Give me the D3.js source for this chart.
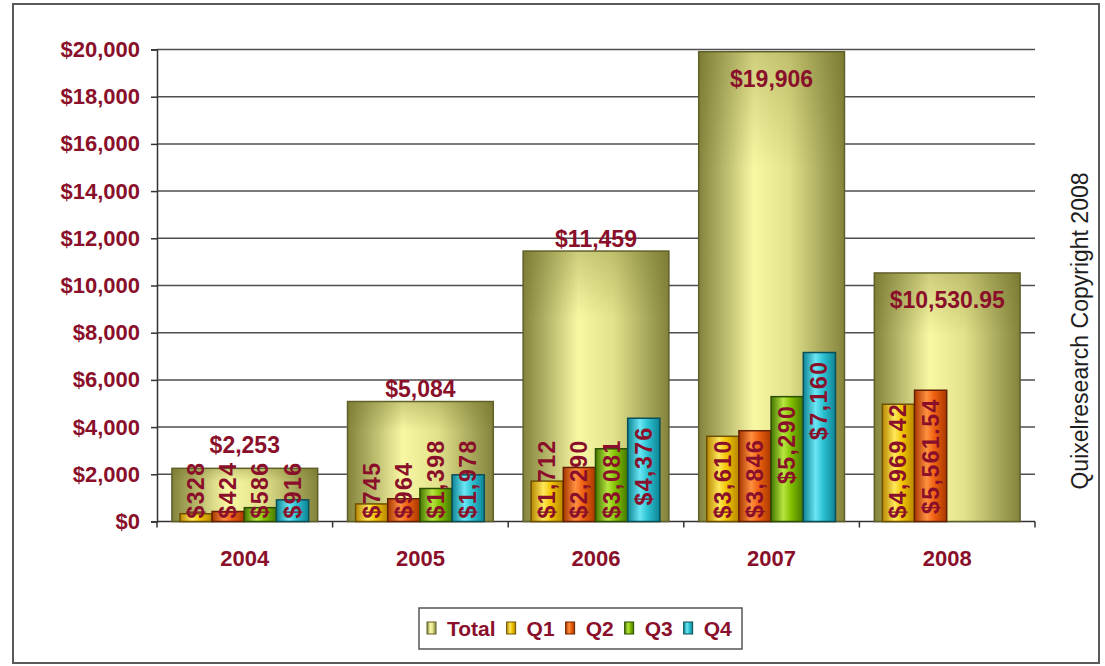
<!DOCTYPE html>
<html>
<head>
<meta charset="utf-8">
<script src="https://cdn.jsdelivr.net/npm/d3@7"></script>
<style>
  html, body { margin: 0; padding: 0; background: #ffffff; }
  svg { display: block; font-family: "Liberation Sans", Arial, sans-serif; }
</style>
</head>
<body>
<svg id="chart" width="1105" height="666"></svg>
<script>
// Yearly revenue: total bar per year with quarterly bars in front
const years = ["2004", "2005", "2006", "2007", "2008"];
const totals = [2253, 5084, 11459, 19906, 10530.95];
const q1 = [328, 745, 1712, 3610, 4969.42];
const q2 = [424, 964, 2290, 3846, 5561.54];
const q3 = [586, 1398, 3081, 5290, null];
const q4 = [916, 1978, 4376, 7160, null];
const quarterNames = ["Q1", "Q2", "Q3", "Q4"];
const yTicks = [0, 2000, 4000, 6000, 8000, 10000, 12000, 14000, 16000, 18000, 20000];
const legendNames = ["Total", "Q1", "Q2", "Q3", "Q4"];
const copyright = "Quixelresearch Copyright 2008";

const quarterSeries = [q1, q2, q3, q4];
const textRed = "#8a0f2a";

const svg = d3.select("#chart");
const defs = svg.append("defs");

// cylinder-like shading for each series
const palette = {
  Total: { dark: "#83833c", light: "#f8f8a4", mid: "#e2e28c", stroke: "#5e5e2a" },
  Q1: { dark: "#b78600", light: "#ffe85a", mid: "#f2c400", stroke: "#6e5000" },
  Q2: { dark: "#a83800", light: "#ff9040", mid: "#ee6010", stroke: "#662000" },
  Q3: { dark: "#457800", light: "#b8e640", mid: "#82c000", stroke: "#2d4d00" },
  Q4: { dark: "#0e8494", light: "#6ae6f4", mid: "#2cc2d2", stroke: "#0a4e58" }
};
Object.entries(palette).forEach(([k, c]) => {
  const g = defs.append("linearGradient").attr("id", "grad-" + k)
    .attr("x1", "0%").attr("x2", "100%").attr("y1", "0%").attr("y2", "0%");
  [[0, c.dark], [0.38, c.light], [0.62, c.mid], [1, c.dark]].forEach(([o, col]) =>
    g.append("stop").attr("offset", o).attr("stop-color", col));
});
// soft darkening toward the top of the total bars
const shade = defs.append("linearGradient").attr("id", "topShade")
  .attr("x1", "0%").attr("x2", "0%").attr("y1", "0%").attr("y2", "100%");
shade.append("stop").attr("offset", 0).attr("stop-color", "#6a6a20").attr("stop-opacity", 0.3);
shade.append("stop").attr("offset", 0.25).attr("stop-color", "#6a6a20").attr("stop-opacity", 0);
shade.append("stop").attr("offset", 1).attr("stop-color", "#6a6a20").attr("stop-opacity", 0);

// outer frame
svg.append("rect").attr("x", 13).attr("y", 4).attr("width", 1086).attr("height", 659)
  .attr("fill", "#fff").attr("stroke", "#5a5a5a").attr("stroke-width", 2);

const plot = { left: 157, right: 1035, top: 49.5, bottom: 521.5 };

const x = d3.scaleBand().domain(years).range([plot.left, plot.right])
  .paddingInner(0.17).paddingOuter(0.085);
const y = d3.scaleLinear().domain([0, 20000]).range([plot.bottom, plot.top]);
const xq = d3.scaleBand().domain(quarterNames).range([8, x.bandwidth() - 9]).padding(0);

const fmt = v => "$" + (Number.isInteger(v) ? d3.format(",")(v) : d3.format(",.2f")(v));

// gridlines
svg.append("g").selectAll("line").data(yTicks.filter(d => d > 0)).join("line")
  .attr("x1", plot.left).attr("x2", plot.right)
  .attr("y1", d => y(d)).attr("y2", d => y(d))
  .attr("stroke", "#4e4e4e").attr("stroke-width", 1.5);

// y axis
const yAxis = svg.append("g").attr("transform", `translate(${plot.left},0)`)
  .call(d3.axisLeft(y).tickValues(yTicks).tickSize(6).tickPadding(11).tickFormat(d => "$" + d3.format(",")(d)));
yAxis.select(".domain").attr("stroke", "#333").attr("stroke-width", 1.5);
yAxis.selectAll(".tick line").attr("stroke", "#333").attr("stroke-width", 1.5);
yAxis.selectAll(".tick text").attr("fill", textRed)
  .style("font-size", "22px").style("font-weight", "bold")
  .style("font-family", "'Liberation Sans', Arial, sans-serif");

// x axis baseline with category boundary ticks
const boundaries = years.map(yr => x(yr) - x.step() * x.paddingInner() / 2);
boundaries[0] = plot.left;
boundaries.push(plot.right);
svg.append("line").attr("x1", plot.left).attr("x2", plot.right)
  .attr("y1", plot.bottom).attr("y2", plot.bottom)
  .attr("stroke", "#333").attr("stroke-width", 1.5);
svg.append("g").selectAll("line").data(boundaries).join("line")
  .attr("x1", d => d).attr("x2", d => d)
  .attr("y1", plot.bottom).attr("y2", plot.bottom + 6)
  .attr("stroke", "#333").attr("stroke-width", 1.5);

// year labels
svg.append("g").selectAll("text").data(years).join("text")
  .attr("x", d => x(d) + x.bandwidth() / 2).attr("y", 566)
  .attr("text-anchor", "middle").attr("fill", textRed)
  .style("font-size", "22px").style("font-weight", "bold")
  .text(d => d);

// total bars
const totalG = svg.append("g");
totalG.selectAll("rect.total").data(years).join("rect")
  .attr("class", "total")
  .attr("x", d => x(d)).attr("width", x.bandwidth())
  .attr("y", (d, i) => y(totals[i])).attr("height", (d, i) => y(0) - y(totals[i]))
  .attr("fill", "url(#grad-Total)").attr("stroke", palette.Total.stroke).attr("stroke-width", 1.5);
totalG.selectAll("rect.shade").data(years).join("rect")
  .attr("class", "shade")
  .attr("x", d => x(d)).attr("width", x.bandwidth())
  .attr("y", (d, i) => y(totals[i])).attr("height", (d, i) => y(0) - y(totals[i]))
  .attr("fill", "url(#topShade)").attr("stroke", "none");

// quarter bars
const quarterRows = [];
years.forEach((yr, i) => quarterSeries.forEach((s, qi) => {
  if (s[i] != null) quarterRows.push({ year: yr, q: quarterNames[qi], value: s[i] });
}));
svg.append("g").selectAll("rect").data(quarterRows).join("rect")
  .attr("x", d => x(d.year) + xq(d.q)).attr("width", xq.bandwidth())
  .attr("y", d => y(d.value)).attr("height", d => y(0) - y(d.value))
  .attr("fill", d => `url(#grad-${d.q})`)
  .attr("stroke", d => palette[d.q].stroke).attr("stroke-width", 1.5);

// quarter value labels, reading upward, at the top of the bar or resting on the base
const qLabels = svg.append("g").selectAll("text").data(quarterRows).join("text")
  .attr("text-anchor", "end").attr("dominant-baseline", "central")
  .attr("fill", textRed)
  .style("font-size", "23px").style("font-weight", "bold").style("letter-spacing", "1.5px")
  .text(d => fmt(d.value));
qLabels.each(function (d) {
  const len = this.getComputedTextLength();
  const cx = x(d.year) + xq(d.q) + xq.bandwidth() / 2;
  const top = Math.min(y(d.value) + 8, y(0) - len - 3);
  d3.select(this).attr("transform", `translate(${cx},${top}) rotate(-90)`);
});

// total value labels
const totalLabelDy = [-23, -13, -12, 27, 27];
svg.append("g").selectAll("text").data(years).join("text")
  .attr("x", d => x(d) + x.bandwidth() / 2)
  .attr("y", (d, i) => y(totals[i]) + totalLabelDy[i])
  .attr("text-anchor", "middle").attr("dominant-baseline", "central")
  .attr("fill", textRed)
  .style("font-size", "23px").style("font-weight", "bold")
  .text((d, i) => fmt(totals[i]));

// legend
const legend = svg.append("g");
legend.append("rect").attr("x", 419).attr("y", 608).attr("width", 323).attr("height", 41)
  .attr("fill", "#fff").attr("stroke", "#555").attr("stroke-width", 1.5);
let lx = 427;
legendNames.forEach(name => {
  legend.append("rect").attr("x", lx).attr("y", 622).attr("width", 9).attr("height", 12)
    .attr("fill", `url(#grad-${name})`).attr("stroke", palette[name].stroke).attr("stroke-width", 1);
  const t = legend.append("text").attr("x", lx + 20).attr("y", 636)
    .attr("fill", textRed).style("font-size", "21px").style("font-weight", "bold").text(name);
  lx += 20 + t.node().getComputedTextLength() + 11;
});

// copyright note
svg.append("text")
  .attr("transform", "translate(1080,331) rotate(-90)")
  .attr("text-anchor", "middle").attr("dominant-baseline", "central")
  .attr("fill", "#1e1e1e").style("font-size", "23px")
  .text(copyright);
</script>
</body>
</html>
